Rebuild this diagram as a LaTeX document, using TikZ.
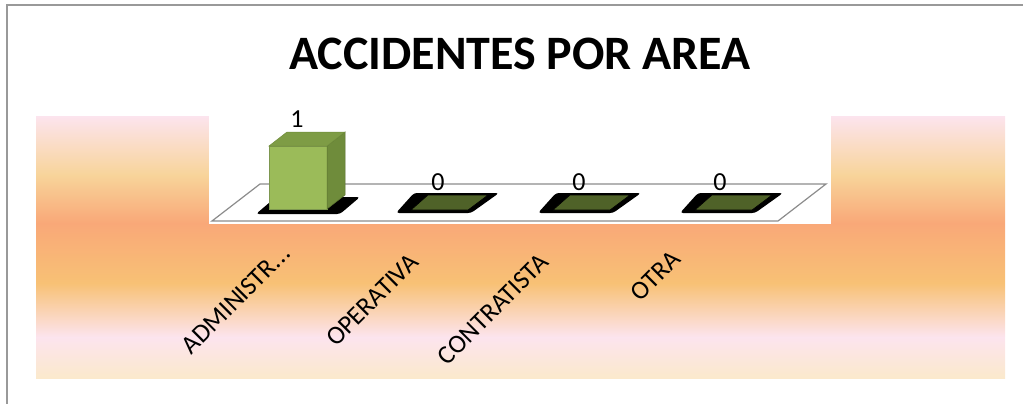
\documentclass[tikz,border=0pt]{standalone}
\usepackage{fontspec}
\setmainfont{Carlito}
\definecolor{pinkt}{RGB}{252,228,238}
\definecolor{yellowy}{RGB}{248,212,154}
\definecolor{salmon}{RGB}{249,168,120}
\definecolor{orangey}{RGB}{248,193,117}
\definecolor{creamb}{RGB}{251,233,204}
\definecolor{barfront}{RGB}{155,187,89}
\definecolor{barside}{RGB}{111,140,59}
\definecolor{bartop}{RGB}{126,156,69}
\definecolor{barflat}{RGB}{79,98,40}
\pgfdeclareverticalshading{sunset}{100bp}{color(0bp)=(creamb); color(25bp)=(creamb); color(32.8bp)=(pinkt); color(43.1bp)=(orangey); color(54.6bp)=(salmon); color(63.7bp)=(yellowy); color(75bp)=(pinkt); color(100bp)=(pinkt)}
\begin{document}
\begin{tikzpicture}[x=1pt,y=-1pt]
\useasboundingbox (0,0) rectangle (1023,404);
\draw[gray!80, line width=2] (7,404) -- (7,5) -- (1023,5);
\shade[shading=sunset] (36,116) rectangle (1005,378);
\fill[white] (209,116) rectangle (831,224);
\node[font=\bfseries\fontsize{48}{56}\selectfont, anchor=base] (title) at (520,70){ACCIDENTES POR AREA};
\draw[gray!90, line width=1.2] (212,221) -- (778,221) -- (826,184) -- (260,184) -- cycle;
\fill[black, rounded corners=3] (256,214) -- (340,214) -- (360,197) -- (276,197) -- cycle;
\filldraw[fill=barfront, draw=barside!90, line width=0.5] (269,146) rectangle (327,209);
\filldraw[fill=barside, draw=barside!80!black, line width=0.5] (327,146) -- (345,132) -- (345,195) -- (327,209) -- cycle;
\filldraw[fill=bartop, draw=barside, line width=0.5] (269,146) -- (327,146) -- (345,132) -- (287,132) -- cycle;
\fill[black, rounded corners=3] (396,213) -- (471,213) -- (499,193) -- (414,193) -- cycle;
\filldraw[fill=barflat, draw=black, line width=0.6] (411,210) -- (468,210) -- (488,195) -- (428,195) -- cycle;
\fill[black, rounded corners=3] (538,213) -- (613,213) -- (641,193) -- (556,193) -- cycle;
\filldraw[fill=barflat, draw=black, line width=0.6] (553,210) -- (610,210) -- (630,195) -- (570,195) -- cycle;
\fill[black, rounded corners=3] (680,213) -- (755,213) -- (783,193) -- (698,193) -- cycle;
\filldraw[fill=barflat, draw=black, line width=0.6] (695,210) -- (752,210) -- (772,195) -- (712,195) -- cycle;
\node[font=\fontsize{26}{30}\selectfont, anchor=base] (val1) at (297,128){1};
\node[font=\fontsize{26}{30}\selectfont, anchor=base] (val2) at (438,190){0};
\node[font=\fontsize{26}{30}\selectfont, anchor=base] (val3) at (579,190){0};
\node[font=\fontsize{26}{30}\selectfont, anchor=base] (val4) at (720,190){0};
\node[font=\fontsize{26}{30}\selectfont, rotate=45, anchor=base east, inner sep=0] (cat1) at (292,255){ADMINISTR...};
\node[font=\fontsize{26}{30}\selectfont, rotate=45, anchor=base east, inner sep=0] (cat2) at (420,264){OPERATIVA};
\node[font=\fontsize{26}{30}\selectfont, rotate=45, anchor=base east, inner sep=0] (cat3) at (550,264){CONTRATISTA};
\node[font=\fontsize{26}{30}\selectfont, rotate=45, anchor=base east, inner sep=0] (cat4) at (682,261){OTRA};
\end{tikzpicture}
\end{document}
